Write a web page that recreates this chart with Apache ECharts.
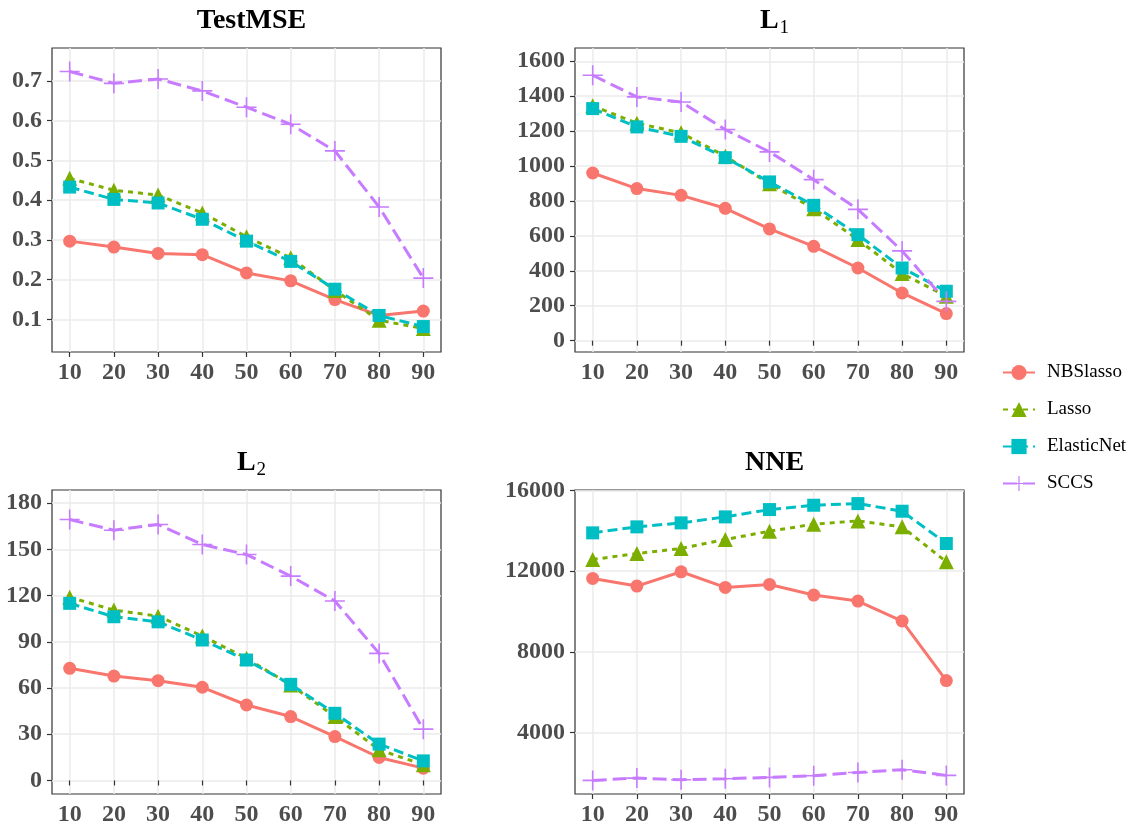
<!DOCTYPE html>
<html>
<head>
<meta charset="utf-8">
<script src="https://cdn.jsdelivr.net/npm/echarts@6/dist/echarts.min.js"></script>
<style>
  html, body { margin: 0; padding: 0; background: #fff; }
  #main { width: 1137px; height: 831px; }
</style>
</head>
<body>
<div id="main"></div>
<script>
var xs = [10, 20, 30, 40, 50, 60, 70, 80, 90];
var methods = ['NBSlasso', 'Lasso', 'ElasticNet', 'SCCS'];

// TestMSE
var mseNBS   = [0.297, 0.282, 0.266, 0.263, 0.217, 0.197, 0.150, 0.110, 0.121];
var mseLasso = [0.455, 0.425, 0.413, 0.368, 0.308, 0.255, 0.173, 0.098, 0.077];
var mseEN    = [0.433, 0.402, 0.393, 0.352, 0.297, 0.246, 0.176, 0.110, 0.082];
var mseSCCS  = [0.724, 0.694, 0.705, 0.675, 0.634, 0.591, 0.524, 0.383, 0.204];
var mseTicks = [0.1, 0.2, 0.3, 0.4, 0.5, 0.6, 0.7];

// L1
var l1NBS   = [960, 871, 832, 758, 640, 540, 416, 273, 155];
var l1Lasso = [1345, 1245, 1190, 1056, 899, 756, 579, 384, 254];
var l1EN    = [1329, 1224, 1170, 1048, 909, 775, 607, 416, 283];
var l1SCCS  = [1520, 1396, 1367, 1209, 1081, 922, 752, 514, 225];
var l1Ticks = [0, 200, 400, 600, 800, 1000, 1200, 1400, 1600];

// L2
var l2NBS   = [72.8, 67.8, 64.8, 60.5, 49.0, 41.5, 28.5, 14.9, 8.0];
var l2Lasso = [119, 110.6, 106.7, 93.8, 79.3, 62.0, 41.5, 19.9, 10.2];
var l2EN    = [115, 106.3, 103, 91.2, 78.2, 62.4, 43.6, 23.6, 12.7];
var l2SCCS  = [169.4, 162.5, 166.2, 153.2, 146.7, 132.7, 116.5, 82.5, 33.3];
var l2Ticks = [0, 30, 60, 90, 120, 150, 180];

// NNE
var nneNBS   = [11642, 11263, 11973, 11197, 11345, 10817, 10520, 9530, 6575];
var nneLasso = [12583, 12880, 13128, 13574, 13986, 14333, 14498, 14201, 12468];
var nneEN    = [13904, 14201, 14399, 14696, 15059, 15274, 15356, 14977, 13376];
var nneSCCS  = [1623, 1739, 1656, 1706, 1772, 1854, 2019, 2151, 1871];
var nneTicks = [4000, 8000, 12000, 16000];

var serif = '"Liberation Serif", "DejaVu Serif", serif';
var plusPath = 'path://M-0.8,-10 L0.8,-10 L0.8,10 L-0.8,10 Z M-10,-0.8 L10,-0.8 L10,0.8 L-10,0.8 Z';

var styles = {
  NBSlasso:   { color: '#F8766D', type: 'solid',  symbol: 'circle',   size: 13 },
  Lasso:      { color: '#7CAE00', type: [5, 5],   symbol: 'triangle', size: 15 },
  ElasticNet: { color: '#00BFC4', type: [10, 5],  symbol: 'rect',     size: 13 },
  SCCS:       { color: '#C77CFF', type: [14, 6],  symbol: plusPath,   size: 20 }
};

var panels = [
  { title: 'TestMSE', grid: [52, 48], ymin: 0.018, ymax: 0.783, ticks: mseTicks,
    fmt: function (v) { return v.toFixed(1); }, data: [mseNBS, mseLasso, mseEN, mseSCCS] },
  { title: '{a|L}{b|1}', grid: [575, 48], ymin: -65, ymax: 1676, ticks: l1Ticks,
    fmt: function (v) { return String(v); }, data: [l1NBS, l1Lasso, l1EN, l1SCCS] },
  { title: '{a|L}{b|2}', grid: [52, 490], ymin: -8.8, ymax: 188.6, ticks: l2Ticks,
    fmt: function (v) { return String(v); }, data: [l2NBS, l2Lasso, l2EN, l2SCCS] },
  { title: 'NNE', grid: [575, 490], ymin: 949, ymax: 16030, ticks: nneTicks,
    fmt: function (v) { return String(v); }, data: [nneNBS, nneLasso, nneEN, nneSCCS] }
];

var PW = 389, PH = 304;
var grids = [], xAxes = [], yAxes = [], titles = [], series = [];

panels.forEach(function (p, i) {
  grids.push({
    left: p.grid[0], top: p.grid[1], width: PW, height: PH,
    show: true, borderColor: '#333333', borderWidth: 1.2, backgroundColor: '#fff'
  });
  titles.push({
    text: p.title,
    left: p.grid[0] + PW / 2,
    top: p.grid[1] - 46,
    textAlign: 'center',
    textStyle: {
      fontFamily: serif, fontWeight: 'bold', fontSize: 28, color: '#000',
      rich: {
        a: { fontFamily: serif, fontWeight: 'bold', fontSize: 28, color: '#000', lineHeight: 30, verticalAlign: 'top' },
        b: { fontFamily: serif, fontWeight: 'normal', fontSize: 19, color: '#000', lineHeight: 19, verticalAlign: 'top', padding: [12, 0, 0, 1] }
      }
    }
  });
  xAxes.push({
    type: 'value', gridIndex: i, min: 6, max: 94,
    axisLine: { show: false },
    axisTick: { show: true, length: 5, lineStyle: { color: '#333', width: 1.2 }, customValues: xs },
    axisLabel: {
      customValues: xs, margin: 9,
      fontFamily: serif, fontWeight: 'bold', fontSize: 24, color: '#4D4D4D'
    },
    splitLine: { show: true, lineStyle: { color: '#EBEBEB', width: 1.5 } }
  });
  yAxes.push({
    type: 'value', gridIndex: i, min: p.ymin, max: p.ymax,
    axisLine: { show: false },
    axisTick: { show: true, length: 5, lineStyle: { color: '#333', width: 1.2 }, customValues: p.ticks },
    axisLabel: {
      customValues: p.ticks, margin: 10, formatter: p.fmt,
      fontFamily: serif, fontWeight: 'bold', fontSize: 24, color: '#4D4D4D'
    },
    splitLine: { show: true, lineStyle: { color: '#EBEBEB', width: 1.5 } }
  });
  methods.forEach(function (m, k) {
    var s = styles[m];
    series.push({
      name: m, type: 'line', xAxisIndex: i, yAxisIndex: i,
      data: xs.map(function (x, j) { return [x, p.data[k][j]]; }),
      symbol: s.symbol, symbolSize: s.size, showAllSymbol: true,
      itemStyle: { color: s.color },
      lineStyle: { color: s.color, width: 3, type: s.type },
      emphasis: { disabled: true },
      animation: false
    });
  });
});

var chart = echarts.init(document.getElementById('main'));
chart.setOption({
  backgroundColor: '#fff',
  animation: false,
  title: titles,
  grid: grids,
  xAxis: xAxes,
  yAxis: yAxes,
  legend: {
    data: methods,
    orient: 'vertical',
    left: 997, top: 358,
    itemWidth: 32, itemHeight: 19, itemGap: 18,
    textStyle: { fontFamily: serif, fontSize: 19, color: '#000', padding: [0, 0, 0, 7] }
  },
  series: series
});
</script>
</body>
</html>
